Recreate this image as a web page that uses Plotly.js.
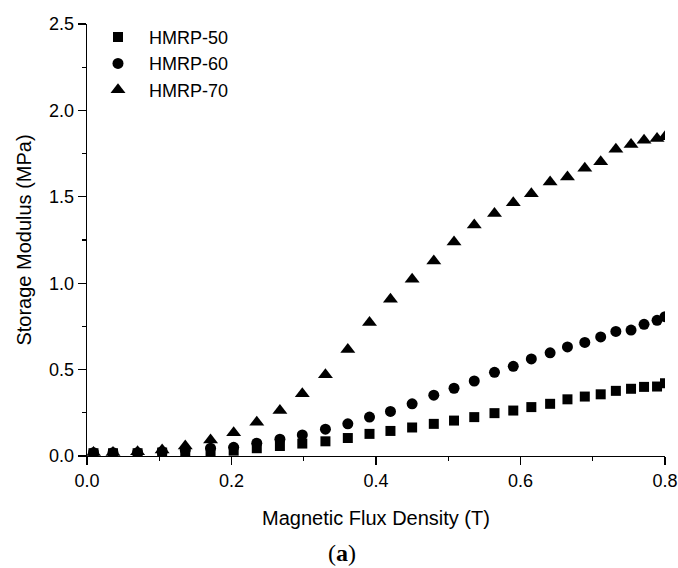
<!DOCTYPE html>
<html>
<head>
<meta charset="utf-8">
<script src="https://cdn.plot.ly/plotly-3.0.1.min.js"></script>
<style>html,body{margin:0;padding:0;background:#fff;}#chart{width:678px;height:568px;}</style>
</head>
<body>
<div id="chart"></div>
<script>
const fluxDensity = [0.009, 0.036, 0.070, 0.104, 0.136, 0.171, 0.203, 0.235, 0.267, 0.298,
  0.330, 0.361, 0.391, 0.420, 0.450, 0.480, 0.508, 0.536, 0.564, 0.590,
  0.615, 0.641, 0.665, 0.689, 0.711, 0.732, 0.753, 0.771, 0.789, 0.800];
const hmrp50 = [0.016, 0.016, 0.016, 0.020, 0.025, 0.025, 0.031, 0.045, 0.058, 0.072,
  0.085, 0.104, 0.128, 0.145, 0.165, 0.186, 0.205, 0.225, 0.248, 0.263,
  0.283, 0.302, 0.328, 0.344, 0.357, 0.377, 0.389, 0.400, 0.402, 0.421];
const hmrp60 = [0.019, 0.019, 0.019, 0.025, 0.035, 0.045, 0.050, 0.074, 0.097, 0.122,
  0.155, 0.186, 0.225, 0.258, 0.302, 0.352, 0.392, 0.434, 0.484, 0.519,
  0.562, 0.597, 0.631, 0.657, 0.689, 0.721, 0.729, 0.762, 0.785, 0.806];
const hmrp70 = [0.020, 0.020, 0.025, 0.035, 0.058, 0.093, 0.135, 0.196, 0.263, 0.360,
  0.470, 0.616, 0.773, 0.907, 1.023, 1.128, 1.238, 1.337, 1.403, 1.465,
  1.517, 1.585, 1.614, 1.665, 1.703, 1.775, 1.802, 1.827, 1.837, 1.848];
const seriesNames = ['HMRP-50', 'HMRP-60', 'HMRP-70'];
const xTickVals = [0.0, 0.2, 0.4, 0.6, 0.8];
const yTickVals = [0.0, 0.5, 1.0, 1.5, 2.0, 2.5];

const symbols = ['square', 'circle', 'triangle-up'];
const sizes = [10, 11, 13];
const ys = [hmrp50, hmrp60, hmrp70];
const traces = ys.map((y, i) => ({
  x: fluxDensity, y: y, name: seriesNames[i], type: 'scatter', mode: 'markers',
  cliponaxis: true,
  marker: {symbol: symbols[i], size: sizes[i], color: '#000', line: {width: 0}}
}));

const font = 'Liberation Sans, Arial, sans-serif';
const layout = {
  width: 678, height: 568,
  margin: {l: 87, r: 13, t: 24, b: 112},
  paper_bgcolor: '#fff', plot_bgcolor: '#fff',
  font: {family: font, color: '#000', size: 18},
  showlegend: true,
  legend: {x: 0, xanchor: 'left', y: 1.012, yanchor: 'top', itemwidth: 52,
    font: {family: font, size: 18, color: '#000'}, bgcolor: 'rgba(0,0,0,0)', tracegroupgap: 0},
  xaxis: {
    range: [0, 0.8], showgrid: false, zeroline: false, showline: true, linecolor: '#000', linewidth: 1.3,
    ticks: 'outside', ticklen: 8, tickwidth: 1.3, tickcolor: '#000',
    tickvals: xTickVals, tickformat: '.1f', tickfont: {size: 18},
    minor: {ticks: 'outside', ticklen: 4, tickwidth: 1.3, tickcolor: '#000', dtick: 0.1, tick0: 0},
    title: {text: 'Magnetic Flux Density (T)', font: {size: 20}, standoff: 21}
  },
  yaxis: {
    range: [0, 2.5], showgrid: false, zeroline: false, showline: true, linecolor: '#000', linewidth: 1.3,
    ticks: 'outside', ticklen: 8, tickwidth: 1.3, tickcolor: '#000',
    tickvals: yTickVals, tickformat: '.1f', tickfont: {size: 18},
    minor: {ticks: 'outside', ticklen: 4, tickwidth: 1.3, tickcolor: '#000', dtick: 0.25, tick0: 0},
    title: {text: 'Storage Modulus (MPa)', font: {size: 20}, standoff: 12}
  },
  annotations: [{
    text: '(<b>a</b>)', xref: 'paper', yref: 'paper', x: 0.442, y: -0.225,
    xanchor: 'center', yanchor: 'middle', showarrow: false,
    font: {family: 'Liberation Serif, DejaVu Serif, serif', size: 24, color: '#000'}
  }]
};

Plotly.newPlot('chart', traces, layout, {displayModeBar: false, staticPlot: true});
</script>
</body>
</html>
